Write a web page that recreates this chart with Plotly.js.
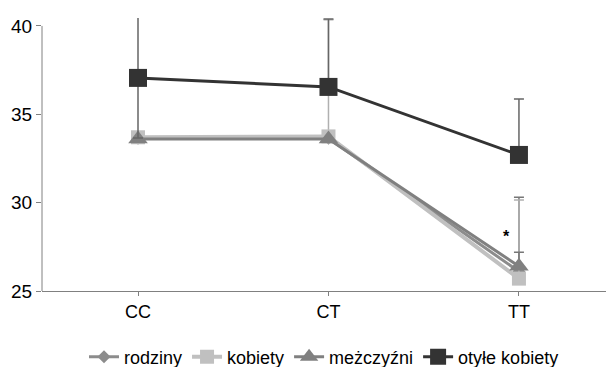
<!DOCTYPE html>
<html><head><meta charset="utf-8">
<script src="https://cdn.plot.ly/plotly-3.0.1.min.js"></script>
<style>html,body{margin:0;padding:0;background:#fff}#c{width:606px;height:367px}</style>
</head><body><div id="c"></div>
<script>
const categories = ["CC", "CT", "TT"];
const rodziny = [33.65, 33.65, 26.1];
const kobiety = [33.7, 33.75, 25.7];
const mezczyzni = [33.6, 33.6, 26.4];
const otyleKobiety = [37.06, 36.55, 32.7];
const errRodzinyPlus = [0, 0, 4.2];
const errKobietyPlus = [0, 6.6, 4.45];
const errMezczyzniPlus = [0, 0, 0.8];
const errOtylePlus = [3.7, 3.85, 3.17];
const errOtyleMinus = [3.4, 0, 0];
const yTicks = [25, 30, 35, 40];
const starPos = {x: 1.937, y: 28.06};

function tr(name, y, plus, minus, color, ecolor, width, sym, size) {
  return {
    type: 'scatter', mode: 'lines+markers', name: name, x: categories, y: y,
    line: {color: color, width: width},
    marker: {symbol: sym, size: size, color: color},
    error_y: {type: 'data', symmetric: false, array: plus, arrayminus: minus,
              color: ecolor, thickness: 1.5, width: 5, visible: true},
    cliponaxis: false
  };
}
const zeros = [0, 0, 0];
const data = [
  tr('rodziny', rodziny, errRodzinyPlus, zeros, '#8c8c8c', '#777', 3, 'diamond', 10),
  tr('kobiety', kobiety, errKobietyPlus, zeros, '#c0c0c0', '#b0b0b0', 4, 'square', 14),
  tr('meżczyźni', mezczyzni, errMezczyzniPlus, zeros, '#808080', '#777', 3, 'triangle-up', 17),
  tr('otyłe kobiety', otyleKobiety, errOtylePlus, errOtyleMinus, '#333333', '#666', 3, 'square', 18)
];
const layout = {
  width: 606, height: 367,
  margin: {l: 42, r: 0, t: 18, b: 76, autoexpand: false},
  paper_bgcolor: '#fff', plot_bgcolor: '#fff',
  font: {family: 'Liberation Sans, Arial, sans-serif', color: '#000', size: 18},
  showlegend: true,
  legend: {orientation: 'h', x: 0.5, xanchor: 'center', xref: 'paper',
           yref: 'container', y: 0.027, yanchor: 'middle',
           font: {size: 18}, itemwidth: 30, tracegroupgap: 0},
  xaxis: {type: 'category', range: [-0.504, 2.457], showgrid: false, zeroline: false,
          showline: true, linecolor: '#808080', linewidth: 1,
          ticks: 'outside', ticklen: 4, tickcolor: '#808080', tickfont: {size: 18}},
  yaxis: {range: [25, 40.45], tickvals: yTicks, showgrid: false, zeroline: false,
          showline: false, ticks: 'outside', ticklen: 5, tickcolor: '#808080',
          tickfont: {size: 19}},
  shapes: [{type: 'line', xref: 'paper', yref: 'y', x0: 0, x1: 0, y0: 25, y1: 40,
            line: {color: '#808080', width: 1}}],
  annotations: [{x: starPos.x, y: starPos.y, xref: 'x', yref: 'y', text: '<b>*</b>',
                 showarrow: false, font: {size: 16, color: '#000'}}]
};
Plotly.newPlot('c', data, layout, {displayModeBar: false, staticPlot: true});
</script></body></html>
